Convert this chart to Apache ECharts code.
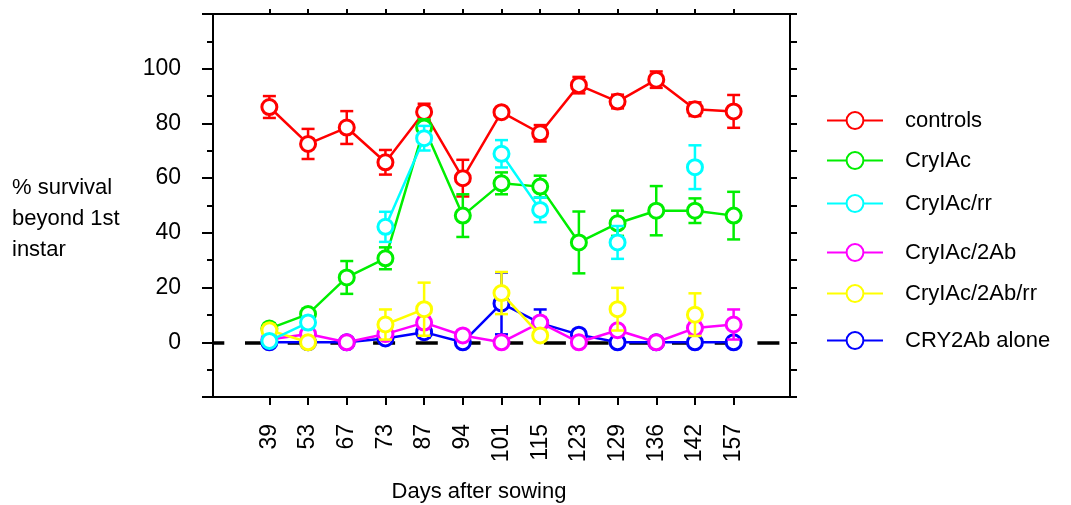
<!DOCTYPE html>
<html>
<head>
<meta charset="utf-8">
<script src="https://cdn.jsdelivr.net/npm/echarts@6/dist/echarts.min.js"></script>
<style>
  html, body { margin: 0; padding: 0; background: #fff; }
  #chart { width: 1071px; height: 505px; }
</style>
</head>
<body>
<div id="chart"></div>
<script>
// 播种后天数
const days = ['39', '53', '67', '73', '87', '94', '101', '115', '123', '129', '136', '142', '157']
const yTickLabels = [0, 20, 40, 60, 80, 100]

const names = ['controls', 'CryIAc', 'CryIAc/rr', 'CryIAc/2Ab', 'CryIAc/2Ab/rr', 'CRY2Ab alone']

const controls = [86, 72.5, 78.5, 65.8, 84.2, 60, 84.1, 76.4, 94, 88, 96, 85.2, 84.4]
const controlsErr = [4, 5.5, 6, 4.5, 3, 6.7, 1.5, 3, 3, 2.5, 3, 2.5, 6]

const cry1ac = [5, 10.3, 23.7, 30.7, 78.5, 46.3, 58.1, 56.9, 36.5, 43.5, 48.1, 48.1, 46.3]
const cry1acErr = [2, 2, 6, 4, 3, 7.8, 4, 4, 11.3, 4.6, 9, 4.5, 8.7]

const cry1acRr = [0.5, 7.2, null, 42.2, 74.6, null, 68.9, 48.4, null, 36.5, null, 64, null]
const cry1acRrErr = [1, 2, null, 5.5, 4.5, null, 5, 4.5, null, 6, null, 8, null]

const cry1ac2ab = [1, 3, 0, 3, 7.2, 2.5, 0, 7.2, 0, 4.4, 0, 5.2, 6.5]
const cry1ac2abErr = [1, 1.5, 0, 1.5, 2, 1, 0, 2, 0, 1.5, 0, 2, 5.5]

const cry1ac2abRr = [4.4, 0, null, 6.5, 12.1, null, 18, 2.5, null, 12.1, null, 10.1, null]
const cry1ac2abRrErr = [2, 0, null, 5.5, 9.7, null, 7.7, 1, null, 7.8, null, 7.8, null]

const cry2ab = [0, 0, 0, 1.4, 3.7, 0, 14.2, 7, 2.8, 0, 0, 0, 0]
const cry2abErr = [0, 0, 0, 1, 2, 0, 11.3, 5, 1, 0, 0, 0, 0]

const COLORS = ['#ff0000', '#00ee00', '#00ffff', '#ff00ff', '#ffff00', '#0000ff']
const VALUES = [controls, cry1ac, cry1acRr, cry1ac2ab, cry1ac2abRr, cry2ab]
const ERRORS = [controlsErr, cry1acErr, cry1acRrErr, cry1ac2abErr, cry1ac2abRrErr, cry2abErr]
// 绘制层次：红、蓝、品红、绿、黄、青
const Z_ORDER = [1, 4, 6, 3, 5, 2]
const LEGEND_TOPS = [120, 160, 203, 252, 293, 340]

const FONT = 'Liberation Sans, Arial, sans-serif'
const LW = 2.5

function errorSeries(color, vals, errs, z) {
  const data = []
  vals.forEach((v, i) => {
    if (v != null && errs[i]) data.push([i, v - errs[i], v + errs[i]])
  })
  return {
    type: 'custom',
    silent: true,
    z: z * 2,
    data,
    encode: { x: 0, y: [1, 2] },
    renderItem(params, api) {
      const x = api.value(0)
      const lo = api.coord([x, api.value(1)])
      const hi = api.coord([x, api.value(2)])
      const w = 6.5
      const style = { stroke: color, lineWidth: LW }
      return {
        type: 'group',
        children: [
          { type: 'line', shape: { x1: lo[0], y1: lo[1], x2: hi[0], y2: hi[1] }, style },
          { type: 'line', shape: { x1: lo[0] - w, y1: lo[1], x2: lo[0] + w, y2: lo[1] }, style },
          { type: 'line', shape: { x1: hi[0] - w, y1: hi[1], x2: hi[0] + w, y2: hi[1] }, style },
        ],
      }
    },
  }
}

function lineSeries(k) {
  const color = COLORS[k]
  const s = {
    name: names[k],
    type: 'line',
    z: Z_ORDER[k] * 2 + 1,
    data: VALUES[k].map((v, i) => [i, v]),
    connectNulls: false,
    symbol: 'circle',
    symbolSize: 15,
    color,
    lineStyle: { color, width: LW },
    itemStyle: { color: '#fff', borderColor: color, borderWidth: 3 },
    emphasis: { disabled: true },
  }
  if (k === 5) {
    s.markLine = {
      silent: true,
      symbol: 'none',
      label: { show: false },
      lineStyle: { color: '#000', width: 3.5, type: [22, 20.7], dashOffset: 10.7 },
      data: [{ yAxis: 0 }],
    }
  }
  return s
}

const series = []
names.forEach((n, k) => {
  series.push(errorSeries(COLORS[k], VALUES[k], ERRORS[k], Z_ORDER[k]))
  series.push(lineSeries(k))
})

const tickIdx = days.map((d, i) => i)
const axisLine = { show: true, onZero: false, lineStyle: { color: '#000', width: 2 } }
const tickStyle = { width: 2, color: '#000' }

const chart = echarts.init(document.getElementById('chart'))
chart.setOption({
  animation: false,
  textStyle: { fontFamily: FONT },
  title: {
    text: '% survival\nbeyond 1st\ninstar',
    left: 7,
    top: 167,
    textStyle: { fontFamily: FONT, fontSize: 22, fontWeight: 'normal', lineHeight: 31, color: '#000' },
  },
  legend: names.map((n, k) => ({
    data: [n],
    left: 821,
    top: LEGEND_TOPS[k] - 15.5,
    itemWidth: 56,
    itemHeight: 21,
    selectedMode: false,
    textStyle: { fontFamily: FONT, fontSize: 22, color: '#000', padding: [0, 0, 0, 17] },
  })),
  grid: { left: 213, right: 281, top: 14, bottom: 108, containLabel: false, outerBoundsMode: 'none' },
  xAxis: [
    {
      type: 'value',
      position: 'bottom',
      min: -1.457,
      max: 13.457,
      axisLine,
      splitLine: { show: false },
      axisTick: { customValues: tickIdx, length: 8, lineStyle: tickStyle },
      axisLabel: {
        customValues: tickIdx,
        formatter: v => days[Math.round(v)],
        rotate: 90,
        margin: 27,
        fontSize: 23,
        color: '#000',
      },
      name: 'Days after sowing',
      nameLocation: 'middle',
      nameGap: 84,
      nameTextStyle: { fontSize: 22, color: '#000', padding: [0, 45, 0, 0] },
    },
    {
      type: 'value',
      position: 'top',
      min: -1.457,
      max: 13.457,
      axisLine,
      splitLine: { show: false },
      axisTick: { customValues: tickIdx, length: 5, lineStyle: tickStyle },
      axisLabel: { show: false },
    },
  ],
  yAxis: [
    {
      type: 'value',
      position: 'left',
      min: -20,
      max: 120,
      interval: 20,
      axisLine,
      splitLine: { show: false },
      axisTick: { length: 11, lineStyle: tickStyle },
      minorTick: { show: true, splitNumber: 2, length: 6, lineStyle: tickStyle },
      axisLabel: { customValues: yTickLabels, margin: 32, fontSize: 23, color: '#000' },
    },
    {
      type: 'value',
      position: 'right',
      min: -20,
      max: 120,
      interval: 20,
      axisLine,
      splitLine: { show: false },
      axisTick: { length: 7, lineStyle: tickStyle },
      minorTick: { show: true, splitNumber: 2, length: 7, lineStyle: tickStyle },
      axisLabel: { show: false },
    },
  ],
  series,
})
</script>
</body>
</html>
